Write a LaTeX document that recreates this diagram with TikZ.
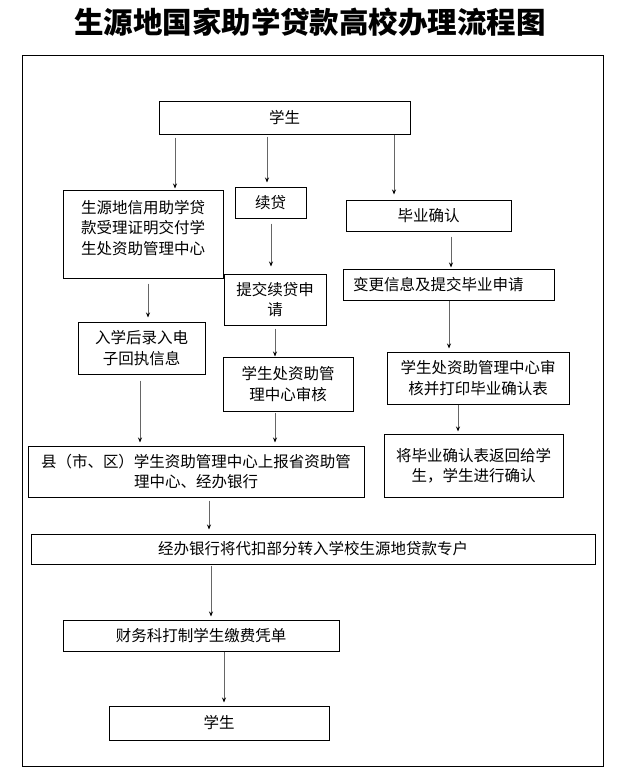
\documentclass[tikz,border=0pt]{standalone}
\usepackage{fontspec}
\newfontfamily\cjk{Noto Sans CJK SC}
\usetikzlibrary{arrows.meta}

\tikzset{
  box/.style={draw, line width=1pt, inner sep=0pt, align=center,
    font=\cjk\fontsize{15.5}{20.5}\selectfont},
  link/.style={draw=black!60, line width=1pt,
    -{Stealth[length=5pt,width=4pt,black]}},
}

\begin{document}
\begin{tikzpicture}[x=1pt, y=-1pt]
\useasboundingbox (0,0) rectangle (618,782);

%% Title %%
\node (title) at (310,22) {\cjk\bfseries\fontsize{29.5}{32}\selectfont 生源地国家助学贷款高校办理流程图};

%% Outer frame %%
\draw[line width=1pt] (22,55) rectangle (603,766);

%% Nodes %%
% top %
\node[box, minimum width=251, minimum height=33] (stu) at (284.5,117.5) {学生};

% left column %
\node[box, minimum width=160, minimum height=88] (loc) at (143,234)
  {生源地信用助学贷\\款受理证明交付学\\生处资助管理中心\\[-7pt]\mbox{}};
\node[box, minimum width=127, minimum height=52] (entry) at (141.5,348)
  {入学后录入电\\子回执信息};

% middle column %
\node[box, minimum width=71, minimum height=31] (renew) at (270.5,202.5) {续贷};
\node[box, minimum width=102, minimum height=51] (apply) at (275,299.5)
  {提交续贷申\\请};
\node[box, minimum width=130, minimum height=54] (audit) at (288,384)
  {学生处资助管\\理中心审核};

% right column %
\node[box, minimum width=165, minimum height=31] (grad) at (428.5,215.5) {毕业确认};
\node[box, minimum height=31, text width=191pt, inner xsep=10pt, align=left] (change) at (448.5,284.5)
  {变更信息及提交毕业申请};
\node[box, minimum width=182, minimum height=52] (print) at (478,378)
  {学生处资助管理中心审\\核并打印毕业确认表};
\node[box, minimum width=179, minimum height=63] (ret) at (473.5,465.5)
  {将毕业确认表返回给学\\生，学生进行确认};

% bottom %
\node[box, minimum width=336, minimum height=51] (county) at (196,471.5)
  {县（市、区）学生资助管理中心上报省资助管\\理中心、经办银行};
\node[box, minimum width=564, minimum height=30] (bank) at (313,549)
  {经办银行将代扣部分转入学校生源地贷款专户};
\node[box, minimum width=276, minimum height=31] (fin) at (201,635.5)
  {财务科打制学生缴费凭单};
\node[box, minimum width=220, minimum height=34] (stuend) at (219,723) {学生};

%% Connection arrows %%
% from the student %
\draw[link, shorten <=3pt, shorten >=1pt] ([xshift=32pt]loc.north |- stu.south) -- ([xshift=32pt]loc.north);
\draw[link, shorten <=2pt, shorten >=4pt] ([xshift=-3.5pt]renew.north |- stu.south) -- ([xshift=-3.5pt]renew.north);
\draw[link, shorten >=5pt] ([xshift=-34.5pt]grad.north |- stu.south) -- ([xshift=-34.5pt]grad.north);

% left column %
\draw[link, shorten <=5pt, shorten >=4pt] ([xshift=6.5pt]entry.north |- loc.south) -- ([xshift=6.5pt]entry.north);
\draw[link, shorten <=6pt, shorten >=3pt] ([xshift=-56pt]county.north |- entry.south) -- ([xshift=-56pt]county.north);

% middle column %
\draw[link, shorten <=5pt, shorten >=7pt] ([xshift=-4pt]apply.north |- renew.south) -- ([xshift=-4pt]apply.north);
\draw[link, shorten <=3pt] ([xshift=-13pt]audit.north |- apply.south) -- ([xshift=-13pt]audit.north);
\draw[link, shorten <=1pt, shorten >=3pt] ([xshift=79pt]county.north |- audit.south) -- ([xshift=79pt]county.north);

% right column %
\draw[link, shorten <=5pt, shorten >=1pt] ([xshift=2.5pt]change.north |- grad.south) -- ([xshift=2.5pt]change.north);
\draw[link, shorten >=3pt] ([xshift=-29pt]print.north |- change.south) -- ([xshift=-29pt]print.north);
\draw[link, shorten >=2pt] ([xshift=-15.5pt]ret.north |- print.south) -- ([xshift=-15.5pt]ret.north);

% bottom %
\draw[link, shorten <=3pt, shorten >=4pt] ([xshift=-104pt]bank.north |- county.south) -- ([xshift=-104pt]bank.north);
\draw[link, shorten <=1pt, shorten >=3pt] ([xshift=10pt]fin.north |- bank.south) -- ([xshift=10pt]fin.north);
\draw[link, shorten >=3pt] ([xshift=5pt]stuend.north |- fin.south) -- ([xshift=5pt]stuend.north);

\end{tikzpicture}
\end{document}
